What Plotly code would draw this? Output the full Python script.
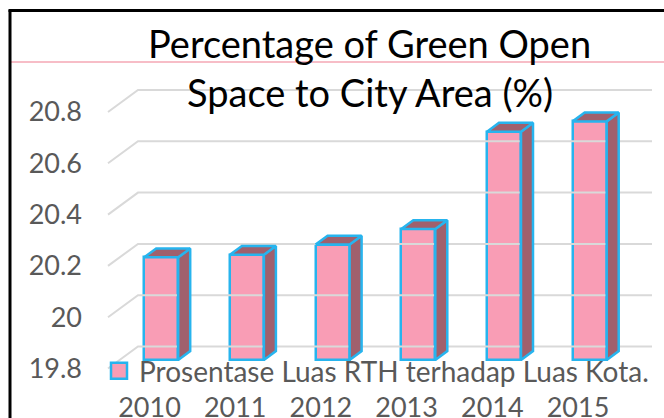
import plotly.graph_objects as go

# ---- data ----
years = ["2010", "2011", "2012", "2013", "2014", "2015"]
values = [20.20, 20.21, 20.25, 20.31, 20.69, 20.73]
y_ticks = [19.8, 20.0, 20.2, 20.4, 20.6, 20.8]
y_tick_text = ["19.8", "20", "20.2", "20.4", "20.6", "20.8"]
series_name = "Prosentase Luas RTH terhadap Luas Kota."
title_lines = ["Percentage of Green Open", "Space to City Area (%)"]

# ---- geometry, in page pixels ----
W, H = 664, 418
PL, PR, PT, PB = 95, 664, 0, 388     # plot area
L, R, T, B = PL, W - PR, PT, H - PB
plot_w, plot_h = PR - PL, PB - PT

px_x0, px_step = 149.5, 85.7          # category 0 centre (front), spacing
px_y0, px_unit = 368.5, 256.5         # pixel of 19.8 (front), px per unit

x_range = [(PL - px_x0) / px_step, (PR - px_x0) / px_step]
y_range = [y_ticks[0] - (PB - px_y0) / px_unit, y_ticks[0] + (px_y0 - PT) / px_unit]

# oblique depth vector
dxu = 30 / px_step
dyu = 22 / px_unit
f_front, f_back = 0.39, 0.79
hw = 17 / px_step
base = y_ticks[0]

x_left = (108 - px_x0) / px_step
x_right_back = (652 - px_x0) / px_step

PINK = "#F99DB5"
DARK = "#A0606D"
CYAN = "#27B4EE"
GRID = "#D9D9D9"
TXT = "#595959"
FONT = "Lato"

fig = go.Figure()

# gridlines: left wall slant + back wall
gx, gy = [], []
for t in y_ticks:
    gx += [x_left, x_left + dxu, x_right_back, None]
    gy += [t, t + dyu, t + dyu, None]
fig.add_trace(go.Scatter(x=gx, y=gy, mode="lines", line=dict(color=GRID, width=2),
                         hoverinfo="skip", showlegend=False))

# side and top faces
sx, sy, tx, ty = [], [], [], []
for i, v in enumerate(values):
    xr = i + hw
    xl = i - hw
    sx += [xr + f_front * dxu, xr + f_back * dxu, xr + f_back * dxu, xr + f_front * dxu, xr + f_front * dxu, None]
    sy += [base + f_front * dyu, base + f_back * dyu, v + f_back * dyu, v + f_front * dyu, base + f_front * dyu, None]
    tx += [xl + f_front * dxu, xr + f_front * dxu, xr + f_back * dxu, xl + f_back * dxu, xl + f_front * dxu, None]
    ty += [v + f_front * dyu, v + f_front * dyu, v + f_back * dyu, v + f_back * dyu, v + f_front * dyu, None]
fig.add_trace(go.Scatter(x=sx, y=sy, mode="lines", fill="toself", fillcolor=DARK,
                         line=dict(color=CYAN, width=2.5), hoverinfo="skip", showlegend=False))
fig.add_trace(go.Scatter(x=tx, y=ty, mode="lines", fill="toself", fillcolor=DARK,
                         line=dict(color=CYAN, width=2.5), hoverinfo="skip", showlegend=False))

# front faces
fig.add_trace(go.Bar(
    x=[i + f_front * dxu for i in range(len(values))],
    y=[v - base for v in values],
    base=[base + f_front * dyu] * len(values),
    width=2 * hw,
    marker=dict(color=PINK, line=dict(color=CYAN, width=2.5)),
    showlegend=False,
    hovertext=years, name=series_name,
))

# legend entry
fig.add_trace(go.Scatter(
    x=[None], y=[None], mode="markers", name=series_name,
    marker=dict(symbol="square", size=16, color=PINK, line=dict(color=CYAN, width=2.5)),
))

def px2paper_x(p):
    return (p - PL) / plot_w

def px2paper_y(p):
    return (PB - p) / plot_h

shapes = [
    dict(type="line", xref="paper", yref="paper", x0=px2paper_x(10), x1=px2paper_x(W + 2),
         y0=px2paper_y(62), y1=px2paper_y(62), line=dict(color="#F4A7B5", width=1.5)),
    dict(type="line", xref="paper", yref="paper", x0=px2paper_x(10), x1=px2paper_x(10),
         y0=px2paper_y(10), y1=px2paper_y(H + 2), line=dict(color="black", width=3)),
    dict(type="line", xref="paper", yref="paper", x0=px2paper_x(8.5), x1=px2paper_x(W + 2),
         y0=px2paper_y(10.5), y1=px2paper_y(10.5), line=dict(color="black", width=3)),
]

annotations = [
    dict(text=title_lines[0], xref="paper", yref="paper", x=px2paper_x(369), y=px2paper_y(43),
         xanchor="center", yanchor="middle", showarrow=False, font=dict(family=FONT, size=38, color="black")),
    dict(text=title_lines[1], xref="paper", yref="paper", x=px2paper_x(370), y=px2paper_y(92),
         xanchor="center", yanchor="middle", showarrow=False, font=dict(family=FONT, size=38, color="black")),
]

fig.update_layout(
    width=W, height=H,
    margin=dict(l=L, r=R, t=T, b=B, pad=0, autoexpand=False),
    paper_bgcolor="white", plot_bgcolor="white",
    bargap=0,
    shapes=shapes,
    annotations=annotations,
    showlegend=True,
    legend=dict(x=px2paper_x(99), y=px2paper_y(371), xanchor="left", yanchor="middle",
                bgcolor="rgba(0,0,0,0)", font=dict(family=FONT, size=28, color=TXT),
                itemclick=False),
    xaxis=dict(range=x_range, showgrid=False, zeroline=False, showline=False, automargin=False,
               tickvals=list(range(len(years))), ticktext=years, ticks="",
               tickfont=dict(family=FONT, size=27, color=TXT), ticklabelstandoff=1),
    yaxis=dict(range=y_range, showgrid=False, zeroline=False, showline=False, automargin=False,
               tickvals=y_ticks, ticktext=y_tick_text, ticks="",
               tickfont=dict(family=FONT, size=27, color=TXT), ticklabelstandoff=12),
)

fig.write_html(
    "out.html",
    config={"displayModeBar": False},
    post_script="document.body.style.margin='0';document.body.style.overflow='hidden';"
                "document.documentElement.style.overflow='hidden';",
)
